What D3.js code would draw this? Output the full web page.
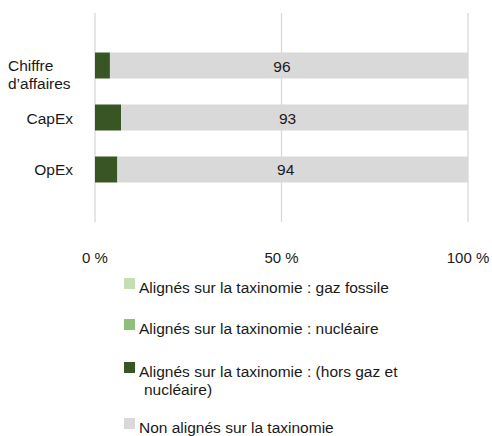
<!doctype html>
<html>
<head>
<meta charset="UTF-8">
<title>Taxinomie</title>
<script src="https://cdn.jsdelivr.net/npm/d3@7"></script>
<style>
  body { margin: 0; background: #fff; }
  svg text { font-family: "Liberation Sans", Arial, sans-serif; fill: #1a1a1a; }
</style>
</head>
<body>
<svg id="chart" width="492" height="436"></svg>
<script>
// data (percent)
var categories = [["Chiffre", "d\u2019affaires"], ["CapEx"], ["OpEx"]];
var catKeys = ["Chiffre d'affaires", "CapEx", "OpEx"];
var gazFossile = [0, 0, 0];
var nucleaire = [0, 0, 0];
var horsGazNucleaire = [4, 7, 6];
var nonAlignes = [96, 93, 94];
var ticks = [0, 50, 100];

var seriesNames = [
    ["Alignés sur la taxinomie : gaz fossile"],
    ["Alignés sur la taxinomie : nucléaire"],
    ["Alignés sur la taxinomie : (hors gaz et", "nucléaire)"],
    ["Non alignés sur la taxinomie"]
];
var colors = ["#c5dfb4", "#90be7b", "#375623", "#d9d9d9"];

var rows = catKeys.map(function (k, i) {
    return { cat: k, gaz: gazFossile[i], nuc: nucleaire[i], hors: horsGazNucleaire[i], non: nonAlignes[i] };
});
var keys = ["gaz", "nuc", "hors", "non"];
var stack = d3.stack().keys(keys)(rows);

var svg = d3.select("#chart");
var x = d3.scaleLinear().domain([0, 100]).range([95, 468]);
var y = d3.scaleBand().domain(catKeys).range([13, 222]).paddingInner(0.5).paddingOuter(0.76);

// gridlines
svg.append("g").selectAll("line").data(ticks).enter().append("line")
    .attr("x1", function (d) { return x(d); }).attr("x2", function (d) { return x(d); })
    .attr("y1", 13).attr("y2", 222)
    .attr("stroke", "#d9d9d9").attr("stroke-width", 1.3);

// bars
svg.append("g").selectAll("g").data(stack).enter().append("g")
    .attr("fill", function (d, i) { return colors[i]; })
    .selectAll("rect").data(function (d) { return d; }).enter().append("rect")
    .attr("x", function (d) { return x(d[0]); })
    .attr("width", function (d) { return x(d[1]) - x(d[0]); })
    .attr("y", function (d) { return y(d.data.cat); })
    .attr("height", y.bandwidth());

// value labels on the grey segment
svg.append("g").selectAll("text").data(stack[3]).enter().append("text")
    .attr("x", function (d) { return (x(d[0]) + x(d[1])) / 2 - 7; })
    .attr("y", function (d) { return y(d.data.cat) + y.bandwidth() / 2 + 6; })
    .attr("text-anchor", "middle").style("font-size", "15.5px")
    .text(function (d) { return d.data.non; });

// category labels
var catG = svg.append("g").selectAll("text").data(categories).enter().append("text")
    .style("font-size", "15.5px")
    .attr("text-anchor", function (d) { return d.length > 1 ? "start" : "end"; })
    .attr("y", function (d, i) { return y(catKeys[i]) + y.bandwidth() / 2 + 6; });
catG.each(function (d, i) {
    var t = d3.select(this);
    if (d.length > 1) {
        t.append("tspan").attr("x", 8).attr("y", 71).text(d[0]);
        t.append("tspan").attr("x", 8).attr("y", 89).text(d[1]);
    } else {
        t.attr("x", 73).text(d[0]);
    }
});

// x tick labels
svg.append("g").selectAll("text").data(ticks).enter().append("text")
    .attr("x", function (d) { return x(d); }).attr("y", 263)
    .attr("text-anchor", "middle").style("font-size", "15px")
    .text(function (d) { return d + " %"; });

// legend
var legendY = [278, 319, 362, 418];
var leg = svg.append("g").selectAll("g").data(seriesNames).enter().append("g")
    .attr("transform", function (d, i) { return "translate(124," + legendY[i] + ")"; });
leg.append("rect").attr("width", 11).attr("height", 11)
    .attr("fill", function (d, i) { return colors[i]; });
leg.each(function (d) {
    var t = d3.select(this).append("text").style("font-size", "15.5px");
    d.forEach(function (line, j) {
        t.append("tspan").attr("x", j === 0 ? 15 : 20).attr("y", 15 + j * 18).text(line);
    });
});
</script>
</body>
</html>
